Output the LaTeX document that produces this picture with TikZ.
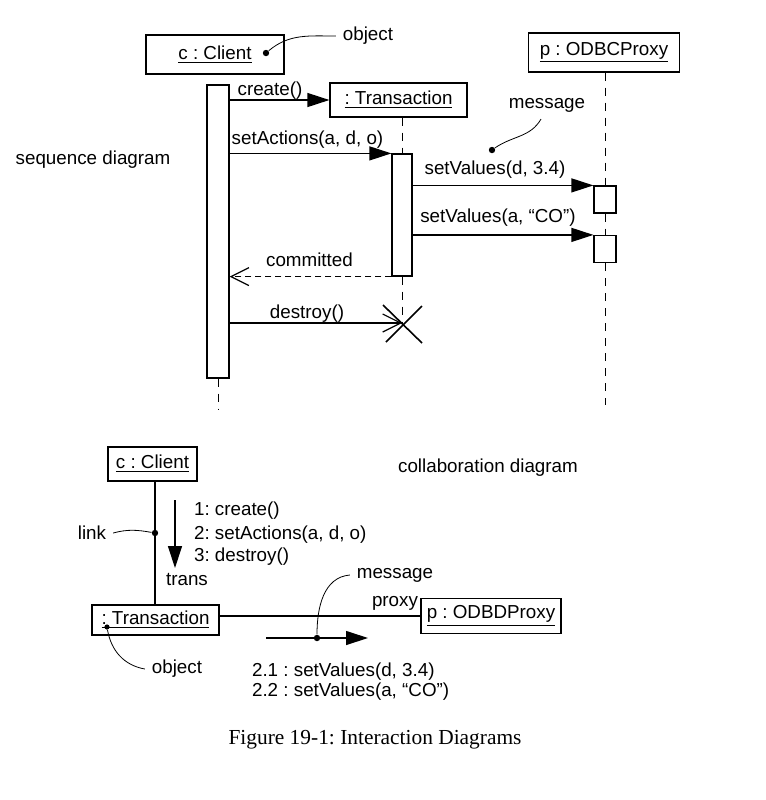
\documentclass[tikz,border=0pt]{standalone}
\usepackage{fontspec}
\setmainfont{Liberation Sans}
\newfontfamily\captionserif{Liberation Serif}
\usetikzlibrary{arrows.meta}
\frenchspacing

\begin{document}
\begin{tikzpicture}[x=0.5pt,y=-0.5pt,
        font=\fontsize{9.4}{11}\selectfont,
        objbox/.style={draw,line width=0.6pt,inner sep=0pt},
        actbar/.style={draw,line width=0.6pt,fill=white,inner sep=0pt,minimum width=11pt},
        lifeline/.style={line width=0.5pt,dash pattern=on 4pt off 3.5pt},
        callmsg/.style={line width=0.6pt,-{Triangle[length=11pt,width=7pt]}},
        retmsg/.style={line width=0.6pt,dash pattern=on 3pt off 2pt,-{Straight Barb[length=9pt,width=9pt]}},
        killmsg/.style={line width=0.6pt,-{Straight Barb[length=9pt,width=9pt]}},
        note/.style={line width=0.4pt},
        dot/.style={circle,fill,inner sep=0pt,minimum size=3.2pt}]

    \useasboundingbox (0,0) rectangle (766,800);

    % Sequenzdiagramm: Objekte
    \node[objbox,minimum width=69pt,minimum height=19.5pt] (client) at (215,54.5) {\underline{c : Client}};
    \node[objbox,minimum width=68.5pt,minimum height=17pt] (trans) at (398.5,100) {\underline{: Transaction}};
    \node[objbox,minimum width=75.5pt,minimum height=19.5pt] (proxy) at (604,52.5) {\underline{p : ODBCProxy}};

    % Aktivierungen
    \node[actbar,minimum height=146.5pt] (clientact) at (218,231.5) {};
    \node[actbar,minimum width=10pt,minimum height=61pt] (transact) at (402,215) {};
    \node[actbar,minimum height=13.5pt] (pact1) at (605,199.5) {};
    \node[actbar,minimum height=13.5pt] (pact2) at (605,249) {};

    \coordinate (cend) at (218,410);
    \coordinate (xend) at (402,323);
    \coordinate (pend) at (605,405);

    % Lebenslinien
    \draw[lifeline] (clientact.north -| client.south) -- (clientact.north);
    \draw[lifeline] (clientact.south) -- (cend);
    \draw[lifeline] (transact.north |- trans.south) -- (transact.north);
    \draw[lifeline] (transact.south) -- (xend);
    \draw[lifeline] (pact1.north |- proxy.south) -- (pact1.north);
    \draw[lifeline] (pact1.south) -- (pact2.north);
    \draw[lifeline] (pact2.south) -- (pend);

    % Nachrichten
    \draw[callmsg] (clientact.east |- trans.west) -- (trans.west);
    \draw[callmsg] (clientact.east |- transact.north west) -- (transact.north west);
    \draw[callmsg] (transact.east |- pact1.north west) -- (pact1.north west);
    \draw[callmsg] (transact.east |- pact2.north west) -- (pact2.north west);
    \draw[retmsg] (transact.south west) -- (clientact.east |- transact.south west);
    \draw[killmsg] (clientact.east |- xend) -- (xend);
    \draw[line width=0.8pt] ([shift={(-19,-18)}]xend) -- ([shift={(20,20)}]xend);
    \draw[line width=0.8pt] ([shift={(20,-17)}]xend) -- ([shift={(-16,19)}]xend);

    \node (lcreate) at (270,91) {create()};
    \node (lsetact) at (307.5,140) {setActions(a, d, o)};
    \node (lsetval1) at (495,170) {setValues(d, 3.4)};
    \node (lsetval2) at (498,218) {setValues(a, ``CO'')};
    \node (lcommit) at (309.5,260) {committed};
    \node (ldestroy) at (307,314) {destroy()};

    % Hinweise
    \node[dot] (objdot) at (266,53) {};
    \node (objlbl) at (368,36) {object};
    \draw[note] (objlbl.west) to[out=180,in=40] (objdot);
    \node[dot] (msgdot) at (492,150) {};
    \node (msglbl) at (547,105) {message};
    \draw[note] ([xshift=-3pt]msglbl.south) to[out=240,in=35] (msgdot);
    \node (seqlbl) at (93,160) {sequence diagram};

    % Kollaborationsdiagramm
    \node[objbox,minimum width=44.5pt,minimum height=17pt] (cclient) at (152.5,464) {\underline{c : Client}};
    \node[objbox,minimum width=63.5pt,minimum height=15pt] (ctrans) at (155.5,620) {\underline{: Transaction}};
    \node[objbox,minimum width=70pt,minimum height=17.5pt] (cproxy) at (491,616) {\underline{p : ODBDProxy}};
    \node (collbl) at (488,468) {collaboration diagram};

    \node[dot] (linkdot) at (155,533) {};
    \draw[line width=0.6pt] (cclient.south -| linkdot) -- (ctrans.north -| linkdot);
    \draw[line width=0.6pt] (ctrans.east |- cproxy.west) -- (cproxy.west);
    \node (linklbl) at (92,533) {link};
    \draw[note] (linklbl.east) to[out=15,in=170] (linkdot);

    \coordinate (m1a) at (175,500);
    \coordinate (m1b) at (175,568);
    \draw[callmsg] (m1a) -- (m1b);
    \node[anchor=west] (l1) at (187,511) {1: create()};
    \node[anchor=west] (l2) at (187,535) {2: setActions(a, d, o)};
    \node[anchor=west] (l3) at (187,557) {3: destroy()};
    \node (ltrans) at (187,580) {trans};
    \node (lproxy) at (395,603) {proxy};

    \coordinate (m2a) at (266,638);
    \coordinate (m2b) at (368,638);
    \draw[callmsg] (m2a) -- (m2b);
    \node[dot] (m2dot) at (317,638) {};
    \node (msg2lbl) at (395,575) {message};
    \draw[note] (msg2lbl.west) to[out=185,in=90] (m2dot);

    \node[dot,minimum size=2.6pt] (objdot2) at (107,627) {};
    \node (obj2lbl) at (177,669) {object};
    \draw[note] (obj2lbl.west) to[out=170,in=-80] (objdot2);

    \node[anchor=west] (l21) at (245,672) {2.1 : setValues(d, 3.4)};
    \node[anchor=west] (l22) at (245,692) {2.2 : setValues(a, ``CO'')};

    % Bildunterschrift
    \node (caption) at (375,740) {\captionserif\fontsize{10.7}{13}\selectfont Figure 19-1: Interaction Diagrams};

\end{tikzpicture}
\end{document}
